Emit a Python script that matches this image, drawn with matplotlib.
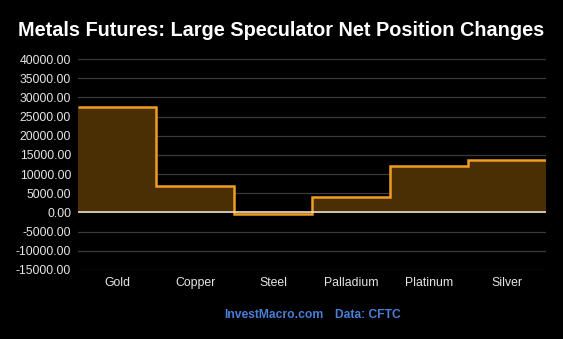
import matplotlib
matplotlib.use("Agg")
import matplotlib.pyplot as plt
import numpy as np

categories = ["Gold", "Copper", "Steel", "Palladium", "Platinum", "Silver"]
net_changes = [27500, 6900, -300, 3900, 12000, 13600]
yticks = [-15000, -10000, -5000, 0, 5000, 10000, 15000, 20000, 25000, 30000, 35000, 40000]

plt.rcParams['font.family'] = ['Liberation Sans', 'DejaVu Sans']

fig = plt.figure(figsize=(5.63, 3.39), dpi=100, facecolor='black')
ax = fig.add_axes([78/563, 1-270/339, (546-78)/563, (270-59)/339])
ax.set_facecolor('black')

x = np.arange(len(categories))
edges = np.arange(len(categories)+1) - 0.5
ax.stairs(net_changes, edges, fill=True, color='#4a2f04', baseline=0)
ax.stairs(net_changes, edges, fill=False, color='#f29d22', linewidth=1.8, baseline=None)

ax.set_xlim(-0.5, len(categories)-0.5)
ax.set_ylim(-15000, 40000)
ax.set_yticks(yticks)
ax.set_yticklabels([f"{v:.2f}" for v in yticks])
ax.set_xticks(x)
ax.set_xticklabels(categories)
ax.grid(axis='y', color='#3a3a3a', linewidth=0.9)
ax.set_axisbelow(True)
ax.axhline(0, color='#e8dcc8', linewidth=1.2, zorder=1.5)
ax.tick_params(axis='both', length=0, colors='#e6e6e6', labelsize=8.8, pad=5)
for s in ax.spines.values():
    s.set_visible(False)

fig.text(0.5, 1-30/339, "Metals Futures: Large Speculator Net Position Changes",
         color='white', fontsize=14.3, fontweight='bold', ha='center', va='center')
fig.text(274/563, 1-315/339, "InvestMacro.com", color='#4a7fd8', fontsize=8.7,
         fontweight='bold', ha='center', va='center')
fig.text(368/563, 1-315/339, "Data: CFTC", color='#4a7fd8', fontsize=8.7,
         fontweight='bold', ha='center', va='center')

fig.savefig("out.png", dpi=100, facecolor='black')
